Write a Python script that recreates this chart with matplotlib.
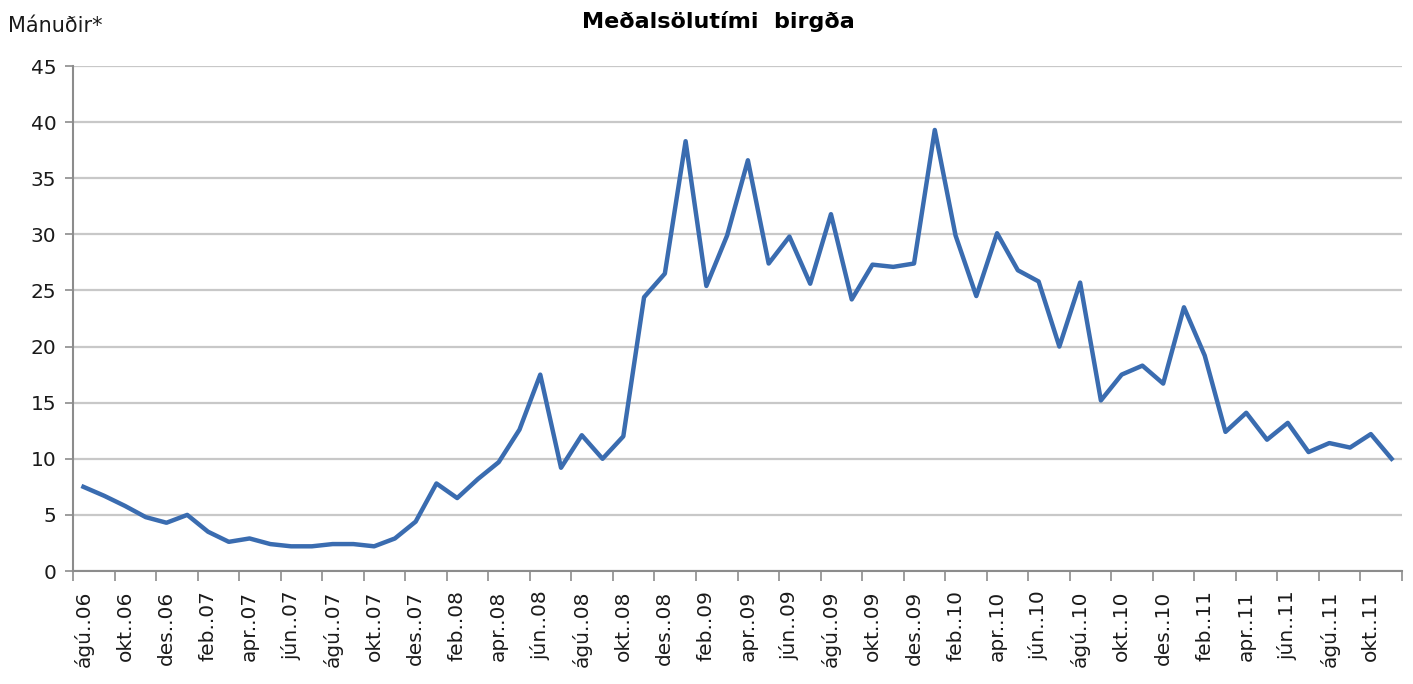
#!/usr/bin/env python3
"""Meðalsölutími birgða - line chart, ágú 2006 - nóv 2011."""

import matplotlib
matplotlib.use("Agg")
import matplotlib.pyplot as plt
from matplotlib.ticker import FixedLocator, NullFormatter


# monthly values, ágú 2006 .. nóv 2011 (64 months)
months = [
    "ágú..06", "sep..06", "okt..06", "nóv..06", "des..06",
    "jan..07", "feb..07", "mar..07", "apr..07", "maí..07", "jún..07",
    "júl..07", "ágú..07", "sep..07", "okt..07", "nóv..07", "des..07",
    "jan..08", "feb..08", "mar..08", "apr..08", "maí..08", "jún..08",
    "júl..08", "ágú..08", "sep..08", "okt..08", "nóv..08", "des..08",
    "jan..09", "feb..09", "mar..09", "apr..09", "maí..09", "jún..09",
    "júl..09", "ágú..09", "sep..09", "okt..09", "nóv..09", "des..09",
    "jan..10", "feb..10", "mar..10", "apr..10", "maí..10", "jún..10",
    "júl..10", "ágú..10", "sep..10", "okt..10", "nóv..10", "des..10",
    "jan..11", "feb..11", "mar..11", "apr..11", "maí..11", "jún..11",
    "júl..11", "ágú..11", "sep..11", "okt..11", "nóv..11",
]

values = [
    7.5, 6.7, 5.8, 4.8, 4.3,
    5.0, 3.5, 2.6, 2.9, 2.4, 2.2,
    2.2, 2.4, 2.4, 2.2, 2.9, 4.4,
    7.8, 6.5, 8.2, 9.7, 12.6, 17.5,
    9.2, 12.1, 10.0, 12.0, 24.4, 26.5,
    38.3, 25.4, 29.9, 36.6, 27.4, 29.8,
    25.6, 31.8, 24.2, 27.3, 27.1, 27.4,
    39.3, 29.9, 24.5, 30.1, 26.8, 25.8,
    20.0, 25.7, 15.2, 17.5, 18.3, 16.7,
    23.5, 19.2, 12.4, 14.1, 11.7, 13.2,
    10.6, 11.4, 11.0, 12.2, 10.0,
]

y_ticks = [0, 5, 10, 15, 20, 25, 30, 35, 40, 45]

TITLE = "Meðalsölutími  birgða"
Y_LABEL = "Mánuðir*"
LINE_COLOR = "#3a6cb0"
GRID_COLOR = "#c8c8c8"
AXIS_COLOR = "#8c8c8c"
TEXT_COLOR = "#1a1a1a"


def main():
    plt.rcParams["font.family"] = ["DejaVu Sans"]

    fig = plt.figure(figsize=(14.13, 6.84), dpi=100)
    ax = fig.add_axes([0.0517, 0.1652, 0.9405, 0.7383])

    x = list(range(len(values)))
    ax.plot(x, values, color=LINE_COLOR, linewidth=3.2, solid_joinstyle="round",
            zorder=3)

    ax.set_xlim(-0.5, len(values) - 0.5)
    ax.set_ylim(0, 45)

    # y axis
    ax.set_yticks(y_ticks)
    ax.tick_params(axis="y", labelsize=14.5, length=6, width=1.2,
                   color=AXIS_COLOR, pad=6, labelcolor=TEXT_COLOR)
    ax.yaxis.grid(True, color=GRID_COLOR, linewidth=1.6, zorder=0)

    # x axis: labels every 2nd month, tick marks at category boundaries
    label_pos = x[::2]
    ax.xaxis.set_major_locator(FixedLocator(label_pos))
    ax.set_xticklabels(months[::2], rotation=90, ha="center", va="top",
                       fontsize=14.5, color=TEXT_COLOR)
    ax.tick_params(axis="x", which="major", length=0, pad=14)
    bounds = [b - 0.5 for b in range(0, len(values) + 1, 2)]
    ax.xaxis.set_minor_locator(FixedLocator(bounds))
    ax.xaxis.set_minor_formatter(NullFormatter())
    ax.tick_params(axis="x", which="minor", length=7, width=1.2,
                   color=AXIS_COLOR)

    for side in ("top", "right"):
        ax.spines[side].set_visible(False)
    for side in ("left", "bottom"):
        ax.spines[side].set_color(AXIS_COLOR)
        ax.spines[side].set_linewidth(1.5)

    fig.text(0.0057, 0.962, Y_LABEL, fontsize=15, color=TEXT_COLOR,
             ha="left", va="center")
    fig.text(0.5085, 0.968, TITLE, fontsize=16, fontweight="bold",
             ha="center", va="center")

    fig.savefig("out.png", dpi=100)
    plt.close(fig)


if __name__ == "__main__":
    main()
